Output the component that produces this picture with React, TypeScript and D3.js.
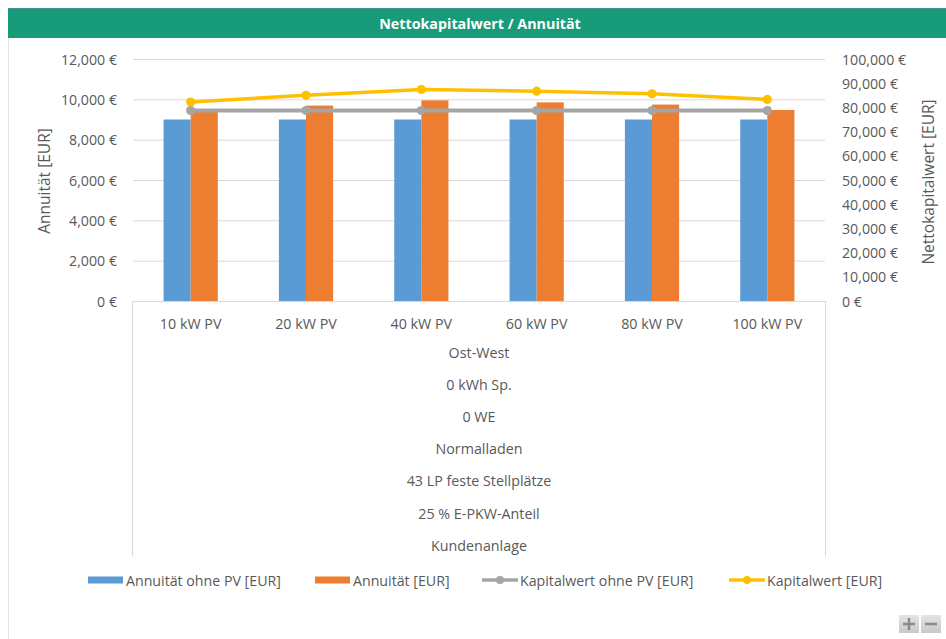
import React from "react";
import * as d3 from "d3";

const categories = ["10 kW PV", "20 kW PV", "40 kW PV", "60 kW PV", "80 kW PV", "100 kW PV"];
const groupLabels = [
  "Ost-West",
  "0 kWh Sp.",
  "0 WE",
  "Normalladen",
  "43 LP feste Stellplätze",
  "25 % E-PKW-Anteil",
  "Kundenanlage",
];
const annuitaetOhnePV = [9000, 9000, 9000, 9000, 9000, 9000];
const annuitaet = [9470, 9690, 9950, 9850, 9740, 9470];
const kapitalwertOhnePV = [78700, 78700, 78700, 78700, 78700, 78700];
const kapitalwert = [82200, 85000, 87400, 86700, 85600, 83300];
const leftTicks = [0, 2000, 4000, 6000, 8000, 10000, 12000];
const rightTicks = [0, 10000, 20000, 30000, 40000, 50000, 60000, 70000, 80000, 90000, 100000];

const W = 946;
const H = 639;
const FONT = "'Open Sans', 'Noto Sans', sans-serif";
const TXT = "#595959";
const GRID = "#d9d9d9";
const C_BLUE = "#5B9BD5";
const C_ORANGE = "#ED7D31";
const C_GRAY = "#A5A5A5";
const C_YELLOW = "#FFC000";

const X0 = 133;
const X1 = 825;
const YT = 59;
const YB = 301;

const fmt = (v: number) => d3.format(",")(v) + " €";

export default function App() {
  const x = d3.scaleBand<string>().domain(categories).range([X0, X1]).paddingInner(0.53).paddingOuter(0.265);
  const xs = d3.scaleBand<string>().domain(["a", "b"]).range([0, x.bandwidth()]).padding(0);
  const yL = d3.scaleLinear().domain([0, 12000]).range([YB, YT]);
  const yR = d3.scaleLinear().domain([0, 100000]).range([YB, YT]);
  const cx = (c: string) => (x(c) as number) + x.bandwidth() / 2;

  const lineGen = (vals: number[]) =>
    d3
      .line<number>()
      .x((_, i) => cx(categories[i]))
      .y((v) => yR(v))(vals) as string;

  const legend = [
    { type: "bar", color: C_BLUE, label: "Annuität ohne PV [EUR]", x: 88 },
    { type: "bar", color: C_ORANGE, label: "Annuität [EUR]", x: 315 },
    { type: "line", color: C_GRAY, label: "Kapitalwert ohne PV [EUR]", x: 482 },
    { type: "line", color: C_YELLOW, label: "Kapitalwert [EUR]", x: 729 },
  ];
  const LY = 580;

  return (
    <div style={{ position: "absolute", left: 0, top: 0, width: W, height: H, background: "#fff" }}>
      <svg width={W} height={H} style={{ display: "block", fontFamily: FONT }}>
        <defs>
          <linearGradient id="btn" x1="0" y1="0" x2="0" y2="1">
            <stop offset="0" stopColor="#e4e4e4" />
            <stop offset="1" stopColor="#c9c9c9" />
          </linearGradient>
        </defs>
        <rect x={0} y={0} width={W} height={H} fill="#fff" />
        <rect x={8.5} y={8.5} width={W} height={H} fill="none" stroke="#e3e3e3" />
        {/* title bar */}
        <rect x={8} y={8} width={W - 8} height={30} fill="#189B79" />
        <line x1={8} x2={W} y1={8.5} y2={8.5} stroke="#5b8fb0" strokeWidth={1} opacity={0.6} />
        <text x={480} y={23} fill="#fff" fontWeight="bold" fontSize={14.3} textAnchor="middle" dominantBaseline="central">
          Nettokapitalwert / Annuität
        </text>

        {/* gridlines */}
        {leftTicks.map((t) => (
          <line key={"g" + t} x1={X0} x2={X1} y1={yL(t) + 0.5} y2={yL(t) + 0.5} stroke={GRID} strokeWidth={1} />
        ))}
        {/* left ticks */}
        {leftTicks.map((t) => (
          <text key={"l" + t} x={117} y={yL(t)} fill={TXT} fontSize={14.2} textAnchor="end" dominantBaseline="central">
            {fmt(t)}
          </text>
        ))}
        {/* right ticks */}
        {rightTicks.map((t) => (
          <text key={"r" + t} x={842} y={yR(t)} fill={TXT} fontSize={14.2} textAnchor="start" dominantBaseline="central">
            {fmt(t)}
          </text>
        ))}
        {/* axis titles */}
        <text
          transform={`translate(44,181) rotate(-90)`}
          fill={TXT}
          fontSize={15.5}
          textAnchor="middle"
          dominantBaseline="central"
        >
          Annuität [EUR]
        </text>
        <text
          transform={`translate(928,182) rotate(-90)`}
          fill={TXT}
          fontSize={15.5}
          textAnchor="middle"
          dominantBaseline="central"
        >
          Nettokapitalwert [EUR]
        </text>

        {/* bars */}
        {categories.map((c, i) => (
          <g key={"b" + c} transform={`translate(${x(c)},0)`}>
            <rect x={xs("a")} y={yL(annuitaetOhnePV[i])} width={xs.bandwidth()} height={YB - yL(annuitaetOhnePV[i])} fill={C_BLUE} />
            <rect x={xs("b")} y={yL(annuitaet[i])} width={xs.bandwidth()} height={YB - yL(annuitaet[i])} fill={C_ORANGE} />
          </g>
        ))}

        {/* lines */}
        <path d={lineGen(kapitalwertOhnePV)} fill="none" stroke={C_GRAY} strokeWidth={4} strokeLinejoin="round" />
        {kapitalwertOhnePV.map((v, i) => (
          <circle key={"gm" + i} cx={cx(categories[i])} cy={yR(v)} r={4.6} fill={C_GRAY} />
        ))}
        <path d={lineGen(kapitalwert)} fill="none" stroke={C_YELLOW} strokeWidth={3.5} strokeLinejoin="round" />
        {kapitalwert.map((v, i) => (
          <circle key={"ym" + i} cx={cx(categories[i])} cy={yR(v)} r={4.6} fill={C_YELLOW} />
        ))}

        {/* multi-level category axis box */}
        <line x1={X0 - 0.5} x2={X0 - 0.5} y1={YB} y2={556} stroke={GRID} />
        <line x1={X1 + 0.5} x2={X1 + 0.5} y1={YB} y2={556} stroke={GRID} />
        {categories.map((c) => (
          <text key={"c" + c} x={cx(c)} y={323} fill={TXT} fontSize={14.3} textAnchor="middle" dominantBaseline="central">
            {c}
          </text>
        ))}
        {groupLabels.map((g, i) => (
          <text
            key={"gl" + i}
            x={(X0 + X1) / 2}
            y={352 + i * 32.2}
            fill={TXT}
            fontSize={14.3}
            textAnchor="middle"
            dominantBaseline="central"
          >
            {g}
          </text>
        ))}

        {/* legend */}
        {legend.map((l) => (
          <g key={l.label}>
            {l.type === "bar" ? (
              <rect x={l.x} y={LY - 3.5} width={35} height={7} fill={l.color} />
            ) : (
              <g>
                <line x1={l.x} x2={l.x + 36} y1={LY} y2={LY} stroke={l.color} strokeWidth={3.5} />
                <circle cx={l.x + 18} cy={LY} r={4} fill={l.color} />
              </g>
            )}
            <text x={l.x + (l.type === "bar" ? 38 : 38)} y={LY} fill={TXT} fontSize={14.2} dominantBaseline="central">
              {l.label}
            </text>
          </g>
        ))}

        {/* zoom buttons */}
        <rect x={899} y={615} width={20} height={18} fill="url(#btn)" />
        <rect x={921} y={615} width={20} height={18} fill="url(#btn)" />
        <line x1={903} x2={915} y1={624} y2={624} stroke="#8a8a8a" strokeWidth={2.5} />
        <line x1={909} x2={909} y1={618} y2={630} stroke="#8a8a8a" strokeWidth={2.5} />
        <line x1={925} x2={937} y1={624} y2={624} stroke="#8a8a8a" strokeWidth={2.5} />
      </svg>
    </div>
  );
}
